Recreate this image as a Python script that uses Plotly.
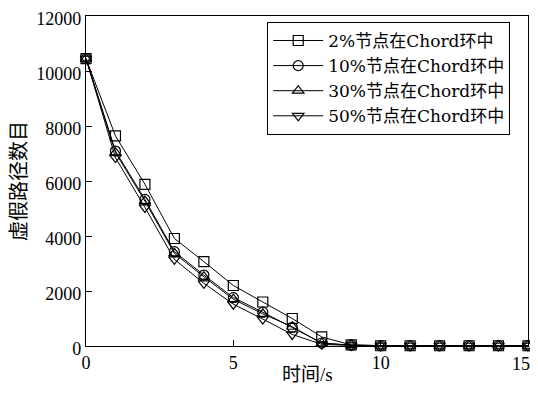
import plotly.graph_objects as go

time_s = list(range(16))
names = ["2%节点在Chord环中", "10%节点在Chord环中", "30%节点在Chord环中", "50%节点在Chord环中"]
s2 = [10450, 7640, 5880, 3910, 3070, 2200, 1600, 1000, 330, 40, 10, 10, 10, 10, 10, 10]
s10 = [10450, 7090, 5330, 3430, 2580, 1760, 1230, 680, 110, 30, 10, 10, 10, 10, 10, 10]
s30 = [10450, 7030, 5270, 3370, 2520, 1700, 1170, 700, 100, 30, 10, 10, 10, 10, 10, 10]
s50 = [10450, 6850, 5040, 3150, 2280, 1520, 980, 420, 60, 20, 10, 10, 10, 10, 10, 10]
series = [s2, s10, s30, s50]
symbols = ["square-open", "circle-open", "triangle-up-open", "triangle-down-open"]
x_ticks = [0, 5, 10, 15]
x_ticklabels = ["0", "5", "10", "15"]
y_ticks = [0, 2000, 4000, 6000, 8000, 10000, 12000]
y_ticklabels = ["0", "2000", "4000", "6000", "8000", "10000", "12000"]
x_title = "时间/s"
y_title = "虚假路径数目"

font_family = "Liberation Serif, Noto Sans CJK SC, serif"
legend_family = "DejaVu Serif, Noto Sans CJK SC, serif"

fig = go.Figure()
for name, vals, sym in zip(names, series, symbols):
    fig.add_trace(go.Scatter(
        x=time_s, y=vals, name=name, mode="lines+markers",
        line=dict(color="black", width=1),
        marker=dict(symbol=sym, size=10, color="black", line=dict(color="black", width=1.2)),
        cliponaxis=False,
    ))

axis_common = dict(
    showgrid=False, zeroline=False, showline=True, linecolor="black", linewidth=1.2,
    mirror=True, ticks="inside", ticklen=6, tickcolor="black", automargin=False,
    ticklabeloverflow="allow",
    tickfont=dict(family=font_family, size=18, color="black"),
)
# last x tick label is drawn as an annotation so it stays inside the visible page
fig.update_xaxes(range=[0, 15], tickvals=x_ticks, ticktext=x_ticklabels[:-1] + [""], **axis_common)
fig.update_yaxes(range=[0, 12000], tickvals=y_ticks, ticktext=y_ticklabels,
                 ticklabelshift=3,
                 title=dict(text=y_title, font=dict(family=font_family, size=20, color="black")),
                 **axis_common)

fig.add_annotation(text=x_ticklabels[-1], xref="x", yref="paper", x=x_ticks[-1], y=0,
                   xanchor="center", yanchor="top", xshift=-7, yshift=-6, showarrow=False,
                   font=dict(family=font_family, size=18, color="black"))
fig.add_annotation(text=x_title, xref="paper", yref="paper", x=0.5, y=-40 / 330,
                   xanchor="center", yanchor="bottom", showarrow=False, borderpad=0,
                   font=dict(family=font_family, size=19, color="black"))

fig.update_layout(
    width=530, height=378,
    margin=dict(l=78, r=10, t=8, b=40),
    paper_bgcolor="white", plot_bgcolor="white",
    font=dict(family=font_family, color="black"),
    legend=dict(x=0.41, y=0.982, xanchor="left", yanchor="top",
                bordercolor="black", borderwidth=1, bgcolor="white",
                font=dict(family=legend_family, size=17, color="black"),
                itemwidth=50, tracegroupgap=0),
    showlegend=True,
)

fig.write_html("out.html")
